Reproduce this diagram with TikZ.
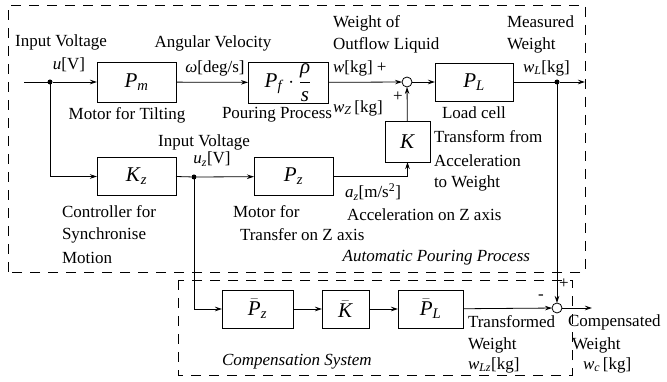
\documentclass[tikz,border=0pt]{standalone}
\usepackage{fontspec}
\usepackage{amsmath}
\setmainfont{Liberation Serif}
\usetikzlibrary{arrows.meta}
\newcommand\tv[1]{\text{\textit{#1}}}
\begin{document}
\begin{tikzpicture}[x=1pt,y=-1pt,
  every node/.style={inner sep=0pt,outer sep=0pt},
  blk/.style={draw,line width=0.8pt,minimum height=38pt,font=\fontsize{21}{24}\selectfont},
  lbl/.style={font=\fontsize{17}{20}\selectfont},
  sm/.style={draw,circle,minimum size=10pt,line width=0.8pt,fill=white},
  dotn/.style={circle,fill=black,minimum size=5pt},
  conn/.style={line width=0.8pt,-{Stealth[length=7pt,width=4.5pt]}},
  ln/.style={line width=0.8pt},
  frame/.style={line width=0.8pt,dash pattern=on 10pt off 8pt}]
\useasboundingbox (0,0) rectangle (667,382);
% frames
\draw[frame] (8,272) -- (8,5) -- (585,5) -- (585,272) -- cycle;
\draw[frame] (178,280) rectangle (572,375);
% blocks
\node[blk,minimum width=79pt,minimum height=40pt] (Pm) at (136.5,82) {$\tv{P}_{\tv{m}}$};
\node[blk,minimum width=80pt,minimum height=41pt] (Pf) at (288,82.5) {$\tv{P}_{\tv{f}}\cdot\dfrac{\tv{ρ}}{\tv{s}}$};
\node[sm] (s1) at (407,82) {};
\node[blk,minimum width=78pt] (PL) at (474,82) {$\tv{P}_{\tv{L}}$};
\node[blk,minimum width=45pt,minimum height=41pt] (K) at (407.5,141.5) {$\tv{K}$};
\node[blk,minimum width=79pt] (Kz) at (136.5,176.5) {$\tv{K}_{\tv{z}}$};
\node[blk,minimum width=79pt] (Pz) at (293.5,176.5) {$\tv{P}_{\tv{z}}$};
\node[blk,minimum width=71pt] (Pzb) at (257.5,309) {$\bar{\tv{P}}_{\tv{z}}$};
\node[blk,minimum width=47pt] (Kb) at (345.5,309) {$\bar{\tv{K}}$};
\node[blk,minimum width=65pt] (PLb) at (430.5,309) {$\bar{\tv{P}}_{\tv{L}}$};
\node[sm] (s2) at (557,308) {};
% junctions
\coordinate (in) at (24,82);
\node[dotn] (d1) at (50,82) {};
\node[dotn] (d2) at (557,82) {};
\node[dotn] (dz) at (194,177) {};
\coordinate (out1) at (585,82);
\coordinate (out2) at (592,308);
% connectors
\draw[ln] (in) -- (d1);
\draw[conn] (d1) -- (Pm);
\draw[conn] (Pm) -- (Pf);
\draw[conn] (Pf) -- (s1);
\draw[conn] (s1) -- (PL);
\draw[ln] (PL) -- (d2);
\draw[conn] (d2) -- (out1);
\draw[conn] (K) -- (s1);
\draw[conn] (d1) |- (Kz);
\draw[ln] (Kz.east) -- (dz);
\draw[conn] (dz) -- (Pz);
\draw[conn] (Pz.east) -| (K.south);
\draw[conn] (dz) |- (Pzb);
\draw[conn] (Pzb) -- (Kb);
\draw[conn] (Kb) -- (PLb);
\draw[conn] (PLb) -- (s2);
\draw[conn] (d2) -- (s2);
\draw[conn] (s2) -- (out2);
% labels
\node[lbl] (t1) at (61,42) {Input Voltage};
\node[lbl] (t2) at (69,65) {$\tv{u}$[V]};
\node[lbl] (t3) at (213,43) {Angular Velocity};
\node[lbl] (t4) at (215,68) {\textit{ω}[deg/s]};
\node[lbl] (t5) at (127,115) {Motor for Tilting};
\node[lbl,anchor=west] (t6) at (222,115) {Pouring Process};
\node[lbl,anchor=west] (t7) at (333,23) {Weight of};
\node[lbl,anchor=west] (t8) at (333,45) {Outflow Liquid};
\node[lbl,anchor=west] (t9) at (333,68) {$\tv{w}$[kg] +};
\node[lbl,anchor=west] (t10) at (507,22) {Measured};
\node[lbl,anchor=west] (t11) at (507,45) {Weight};
\node[lbl,anchor=west] (t12) at (523,68) {$\tv{w}_{\tv{L}}$[kg]};
\node[lbl] (t13) at (398,97) {+};
\node[lbl,anchor=west] (t14) at (333,108) {$\tv{w}_{\tv{Z}}$\,[kg]};
\node[lbl,anchor=west] (t15) at (442,113) {Load cell};
\node[lbl,anchor=west] (t16) at (434,137) {Transform from};
\node[lbl,anchor=west] (t17) at (434,161) {Acceleration};
\node[lbl,anchor=west] (t18) at (434,183) {to Weight};
\node[lbl] (t19) at (204,142) {Input Voltage};
\node[lbl] (t20) at (212,159) {$\tv{u}_{\tv{z}}$[V]};
\node[lbl,anchor=west] (t21) at (62,212) {Controller for};
\node[lbl,anchor=west] (t22) at (62,235) {Synchronise};
\node[lbl,anchor=west] (t23) at (62,258) {Motion};
\node[lbl,anchor=west] (t24) at (233,212) {Motor for};
\node[lbl,anchor=west] (t25) at (240,235) {Transfer on Z axis};
\node[lbl,anchor=west] (t26) at (345,192) {$\tv{a}_{\tv{z}}$[m/s\textsuperscript{2}]};
\node[lbl,anchor=west] (t27) at (347,215) {Acceleration on Z axis};
\node[lbl,anchor=east] (t28) at (530,258) {\textit{Automatic Pouring Process}};
\node[lbl,anchor=west] (t29) at (222,362) {\textit{Compensation System}};
\node[lbl] (t30) at (541,297) {-};
\node[lbl] (t31) at (564,284) {+};
\node[lbl,anchor=west] (t32) at (468,322) {Transformed};
\node[lbl,anchor=west] (t33) at (468,345) {Weight};
\node[lbl,anchor=west] (t34) at (468,365) {$\tv{w}_{\tv{Lz}}$[kg]};
\node[lbl,anchor=west] (t35) at (568,322) {Compensated};
\node[lbl,anchor=west] (t36) at (572,345) {Weight};
\node[lbl,anchor=west] (t37) at (583,365) {$\tv{w}_{\tv{c}}$\,[kg]};
\end{tikzpicture}
\end{document}
